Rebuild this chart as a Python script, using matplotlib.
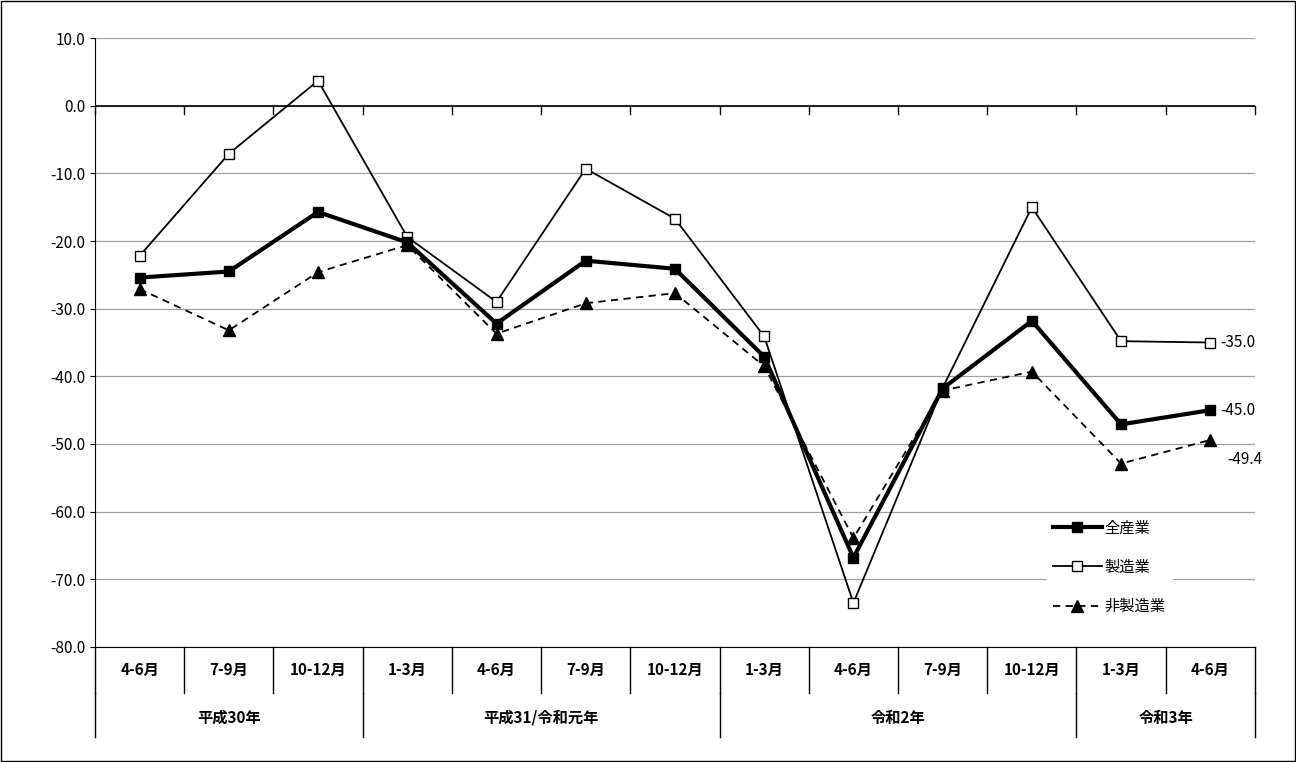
import matplotlib
matplotlib.use("Agg")
import matplotlib.pyplot as plt
import numpy as np

plt.rcParams['font.family'] = ['Noto Sans CJK JP', 'DejaVu Sans']

quarters = ["4-6月", "7-9月", "10-12月", "1-3月", "4-6月", "7-9月", "10-12月",
            "1-3月", "4-6月", "7-9月", "10-12月", "1-3月", "4-6月"]
years = ["平成30年", "平成31/令和元年", "令和2年", "令和3年"]
year_spans = [3, 4, 4, 2]

all_ind = [-25.4, -24.5, -15.7, -20.2, -32.2, -22.9, -24.1, -37.1, -66.8, -41.8, -31.8, -47.1, -45.0]
manuf = [-22.2, -7.1, 3.7, -19.4, -29.0, -9.3, -16.7, -34.1, -73.5, -41.7, -15.0, -34.8, -35.0]
non_manuf = [-27.1, -33.2, -24.6, -20.6, -33.7, -29.2, -27.7, -38.5, -63.9, -42.1, -39.3, -52.9, -49.4]

fig = plt.figure(figsize=(12.96, 7.62), dpi=100)
fig.patches.append(plt.Rectangle((0.001, 0.001), 0.998, 0.998, transform=fig.transFigure,
                                 fill=False, edgecolor='black', lw=1))
ax = fig.add_axes([0.0733, 0.151, 0.895, 0.799])

x = np.arange(len(quarters))
ax.set_xlim(-0.5, len(quarters) - 0.5)
ax.set_ylim(-80, 10)
ax.set_yticks(np.arange(-80, 11, 10))
ax.set_yticklabels([f"{v:.1f}" for v in np.arange(-80, 11, 10)], fontsize=11)
ax.grid(axis='y', color='#a0a0a0', lw=0.9)
ax.set_axisbelow(True)
for s in ['top', 'right']:
    ax.spines[s].set_visible(False)
ax.set_xticks([])
ax.axhline(0, color='black', lw=1.2)
for b in np.arange(-0.5, len(quarters), 1):
    ax.plot([b, b], [0, -1.2], color='black', lw=1, clip_on=False)

ax.plot(x, all_ind, color='black', lw=3, marker='s', ms=7.5, label='全産業', zorder=4)
ax.plot(x, manuf, color='black', lw=1.3, marker='s', ms=7.5, mfc='white', mew=1, label='製造業', zorder=3)
ax.plot(x, non_manuf, color='black', lw=1.3, ls=(0, (4, 3)), marker='^', ms=8.5, label='非製造業', zorder=3)

ax.annotate(f"{manuf[-1]:.1f}", (x[-1], manuf[-1]), xytext=(7, 0), textcoords='offset points', va='center', fontsize=11)
ax.annotate(f"{all_ind[-1]:.1f}", (x[-1], all_ind[-1]), xytext=(7, 0), textcoords='offset points', va='center', fontsize=11)
ax.annotate(f"{non_manuf[-1]:.1f}", (x[-1], non_manuf[-1]), xytext=(12, -14), textcoords='offset points', va='center', fontsize=11)

leg = ax.legend(loc='lower right', bbox_to_anchor=(0.935, 0.03), frameon=True, fontsize=11,
                handlelength=3.2, handletextpad=0.2, labelspacing=1.45)
leg.get_frame().set_edgecolor('white')
leg.get_frame().set_alpha(1)

# category label rows under the axis
tr = ax.get_xaxis_transform()
row1 = -0.075
row2 = -0.148
for i, q in enumerate(quarters):
    ax.text(i, row1 / 2, q, transform=tr, ha='center', va='center', fontsize=11, fontweight='bold')
for b in np.arange(-0.5, len(quarters), 1):
    ax.plot([b, b], [0, row1], transform=tr, color='black', lw=1, clip_on=False)
start = -0.5
for y, span in zip(years, year_spans):
    ax.text(start + span / 2, (row1 + row2) / 2 - 0.005, y, transform=tr, ha='center', va='center',
            fontsize=11, fontweight='bold')
    start += span
bounds = np.cumsum([0] + year_spans) - 0.5
for b in bounds:
    ax.plot([b, b], [row1, row2], transform=tr, color='black', lw=1, clip_on=False)

fig.savefig("out.png", dpi=100)
